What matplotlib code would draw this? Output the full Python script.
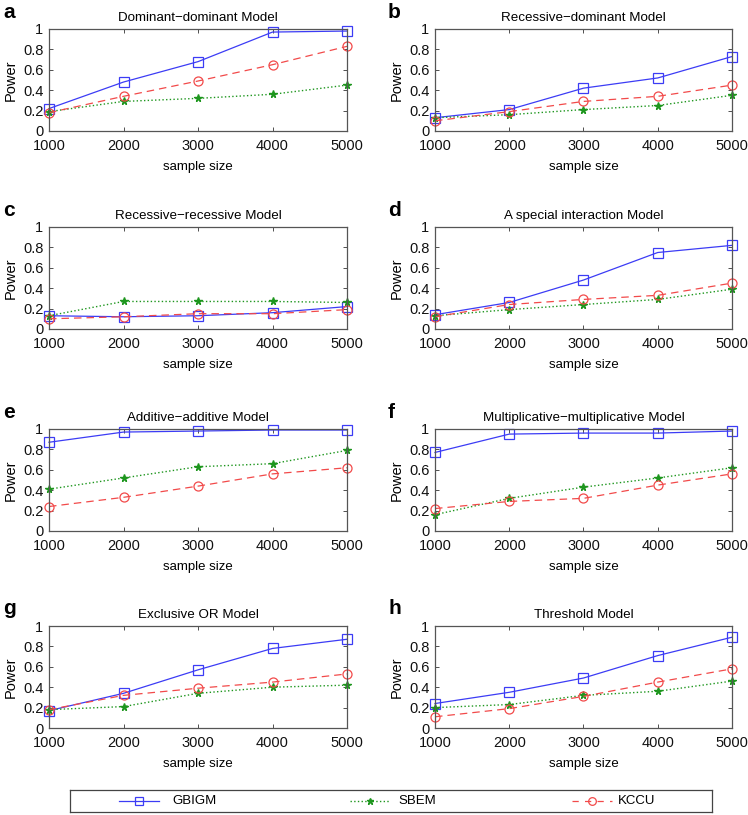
import matplotlib
matplotlib.use("Agg")
import matplotlib.pyplot as plt

plt.rcParams['font.family'] = ['Liberation Sans', 'DejaVu Sans']

sample_sizes = [1000, 2000, 3000, 4000, 5000]
panel_letters = ['a', 'b', 'c', 'd', 'e', 'f', 'g', 'h']
titles = ['Dominant\u2212dominant Model', 'Recessive\u2212dominant Model',
          'Recessive\u2212recessive Model', 'A special interaction Model',
          'Additive\u2212additive Model', 'Multiplicative\u2212multiplicative Model',
          'Exclusive OR Model', 'Threshold Model']
series_names = ['GBIGM', 'SBEM', 'KCCU']

gbigm = [
    [0.22, 0.48, 0.68, 0.97, 0.98],
    [0.13, 0.21, 0.42, 0.52, 0.73],
    [0.13, 0.12, 0.13, 0.16, 0.22],
    [0.14, 0.26, 0.48, 0.75, 0.82],
    [0.87, 0.97, 0.98, 0.99, 0.99],
    [0.77, 0.95, 0.96, 0.96, 0.98],
    [0.17, 0.34, 0.57, 0.78, 0.87],
    [0.24, 0.35, 0.49, 0.71, 0.89],
]
sbem = [
    [0.19, 0.29, 0.32, 0.36, 0.45],
    [0.13, 0.16, 0.21, 0.25, 0.35],
    [0.13, 0.27, 0.27, 0.27, 0.26],
    [0.13, 0.19, 0.24, 0.29, 0.39],
    [0.41, 0.52, 0.63, 0.66, 0.79],
    [0.16, 0.32, 0.43, 0.52, 0.62],
    [0.18, 0.21, 0.34, 0.40, 0.42],
    [0.20, 0.23, 0.32, 0.36, 0.46],
]
kccu = [
    [0.18, 0.34, 0.49, 0.65, 0.83],
    [0.10, 0.19, 0.29, 0.34, 0.45],
    [0.10, 0.12, 0.15, 0.15, 0.19],
    [0.12, 0.24, 0.29, 0.33, 0.45],
    [0.24, 0.33, 0.44, 0.56, 0.62],
    [0.22, 0.29, 0.32, 0.45, 0.56],
    [0.18, 0.32, 0.39, 0.45, 0.53],
    [0.11, 0.19, 0.31, 0.45, 0.58],
]

W, H = 748, 815
fig = plt.figure(figsize=(W / 100, H / 100), dpi=100)

col_x = [(49, 347), (435, 732)]
row_y = [(29, 131), (227, 329), (429, 531), (626, 728)]

blue = '#3c3cf5'
green = '#1e961e'
red = '#f24a4a'

styles = [
    dict(ls='-', color=blue, lw=0.9, marker='s', ms=6.5, mfc='none', mec=blue, mew=0.9),
    dict(ls=':', color=green, lw=1.0, marker='*', ms=5.5, mfc=green, mec=green),
    dict(ls='--', color=red, lw=0.9, dashes=(6, 4), marker='o', ms=6.5, mfc='none', mec=red, mew=0.9),
]

for i in range(8):
    r, c = divmod(i, 2)
    x0, x1 = col_x[c]
    y0, y1 = row_y[r]
    ax = fig.add_axes([x0 / W, 1 - y1 / H, (x1 - x0) / W, (y1 - y0) / H])
    for vals, st in zip([gbigm[i], sbem[i], kccu[i]], styles):
        ln, = ax.plot(sample_sizes, vals, **st)
        ln.set_clip_on(False)
    ax.set_xlim(1000, 5000)
    ax.set_ylim(0, 1)
    ax.set_xticks(sample_sizes)
    ax.set_yticks([0, 0.2, 0.4, 0.6, 0.8, 1])
    ax.set_yticklabels(['0', '0.2', '0.4', '0.6', '0.8', '1'])
    ax.tick_params(direction='in', top=True, right=True, labelsize=10.5,
                   length=3, width=0.6, colors='#333333')
    ax.tick_params(axis='x', pad=5.5)
    ax.tick_params(axis='y', pad=4)
    for lab in ax.get_xticklabels() + ax.get_yticklabels():
        lab.set_color('#111111')
    for sp in ax.spines.values():
        sp.set_color('#555555')
        sp.set_linewidth(0.9)
    ax.set_title(titles[i], fontsize=9.6, pad=6)
    ax.set_xlabel('sample size', fontsize=9.5, labelpad=6)
    ax.set_ylabel('Power', fontsize=10.5, labelpad=4)
    fig.text((x0 - 46 - c) / W, 1 - (y0 - 17) / H, panel_letters[i],
             fontsize=15, fontweight='bold', va='center', ha='left')

# legend box (drawn manually to match spacing)
lx0, lx1, ly0, ly1 = 70, 712, 790, 812
lax = fig.add_axes([lx0 / W, 1 - ly1 / H, (lx1 - lx0) / W, (ly1 - ly0) / H])
lax.set_xlim(lx0, lx1)
lax.set_ylim(0, 1)
lax.set_xticks([])
lax.set_yticks([])
for sp in lax.spines.values():
    sp.set_color('#444444')
    sp.set_linewidth(0.9)
handle_starts = [119, 350, 572]
text_starts = [172, 398, 618]
for name, st, hx, tx in zip(series_names, styles, handle_starts, text_starts):
    st2 = dict(st)
    st2['ms'] = st['ms'] * 0.85
    if st2['ls'] == '--':
        st2['dashes'] = (5, 5)
    lax.plot([hx, hx + 40], [0.5, 0.5], **{k: v for k, v in st2.items() if k != 'marker'})
    lax.plot([hx + 20], [0.5], ls='none', **{k: v for k, v in st2.items() if k not in ('ls', 'dashes', 'lw')})
    lax.text(tx, 0.5, name, fontsize=9.5, va='center', ha='left')

fig.savefig('out.png', dpi=100)
